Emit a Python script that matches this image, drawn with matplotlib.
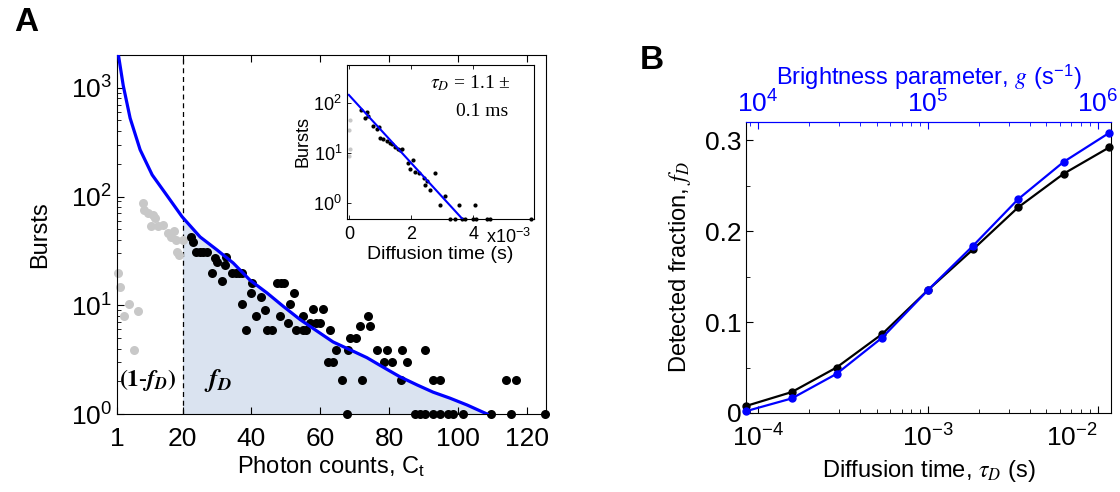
import matplotlib
matplotlib.use('Agg')
import matplotlib.pyplot as plt
import numpy as np
from matplotlib import rcParams
from matplotlib.ticker import FixedLocator, NullFormatter, LogLocator

rcParams['font.family'] = ['Liberation Sans', 'DejaVu Sans']
rcParams['mathtext.fontset'] = 'stix'

# * panel A: burst size histogram
gray_x = [1.4, 1.9, 3.1, 4.4, 5.9, 7.1, 8.4, 8.9, 9.9, 10.9, 11.3, 12.0, 12.8,
          14.2, 15.7, 16.7, 17.6, 18.1, 18.5, 19.0, 20.1]
gray_y = [20, 14.8, 7.9, 10.3, 3.9, 8.9, 87, 75, 70, 54, 68, 63, 53,
          55, 46, 42, 48, 40, 31, 29, 40]

black_x = [22.4, 23.0, 24.0, 25.0, 26.0, 27.0, 28.6, 29.3, 30.0, 31.5, 32.2, 32.7,
           34.4, 35.4, 36.3, 37.3, 37.3, 38.3, 39.8, 40.3, 41.4, 42.7, 44.0, 44.5,
           46.0, 47.5, 48.2, 48.5, 49.4, 50.6, 51.3, 52.3, 53.0, 55.0, 55.0, 55.9,
           56.9, 57.9, 58.8, 59.8, 60.8, 62.2, 62.7, 63.6, 64.6, 66.2, 67.6, 68.0,
           68.5, 70.4, 71.4, 72.0, 73.8, 74.3, 76.5, 78.4, 79.3, 80.8, 83.5, 83.7,
           85.1, 87.4, 88.9, 90.3, 90.4, 92.7, 92.8, 94.6, 94.8, 97.0, 98.5, 101.4,
           109.6, 114.0, 115.4, 116.9, 125.2]
black_y = [42, 38, 31, 31, 31, 31, 20, 27, 25, 16.7, 23.5, 27.6,
           20, 20, 20, 20, 10.2, 5.9, 13, 16, 7.9, 12, 9.1, 5.9,
           5.9, 16, 8, 16, 16, 6.9, 10.2, 13, 5.9, 5.9, 8, 5.9,
           6.9, 9.2, 6.9, 6.9, 9.2, 3.0, 5.9, 3.0, 3.9, 2.05, 1, 3.9,
           5.0, 5.0, 6.4, 2.05, 7.9, 6.4, 3.9, 3.0, 3.9, 3.0, 2.05, 3.9,
           3.0, 1, 1, 1, 3.9, 1, 2.05, 1, 2.05, 1, 1, 1,
           1, 2.05, 1, 2.05, 1]

fit_x = [1.4, 2.8, 4.8, 7.7, 11.2, 15.5, 19.9, 25.1, 30.0, 34.7, 39.6, 44.5,
         49.2, 54.1, 59.0, 63.7, 68.6, 73.5, 78.2, 83.1, 88.1, 92.7, 97.6,
         102.6, 108.4]
fit_y = [2000, 1047, 525, 269, 158, 102, 65, 42.5, 32.3, 24.5, 17.0, 13,
         9.8, 7.4, 5.8, 4.6, 3.9, 3.3, 2.7, 2.2, 1.85, 1.59, 1.40,
         1.21, 1.0]

# * inset: diffusion time histogram
ins_gray_x = [0.03e-3, 0.01e-3, 0.03e-3, 0.01e-3]
ins_gray_y = [46, 29, 12, 8.7]
ins_x = [0.38, 0.57, 0.52, 0.62, 0.79, 0.89, 0.98, 1.00, 1.11, 1.22, 1.32, 1.38,
         1.48, 1.59, 1.64, 1.70, 2.07, 1.91, 1.97, 2.13, 2.24, 2.40, 2.50, 2.77,
         2.45, 2.61, 3.10, 2.94, 3.53, 4.06, 3.26, 3.42, 3.63, 3.74, 4.00, 4.10,
         4.44, 4.55, 5.84]
ins_y = [74, 67, 49, 54, 34, 30, 33, 20, 19, 17, 16, 15,
         13, 12, 11.5, 12, 7.2, 6.2, 4.9, 4.2, 3.9, 3.1, 2.7, 3.9,
         2.3, 1.8, 1.4, 0.9, 0.9, 0.9, 0.48, 0.48, 0.48, 0.48, 0.48, 0.48,
         0.48, 0.48, 0.48]
ins_fit_x = [0.0, 3.65e-3]
ins_fit_y = [145, 0.48]

# * panel B: detected fraction vs diffusion time
tau = [8.5e-5, 1.58e-4, 2.9e-4, 5.4e-4, 1.0e-3, 1.85e-3, 3.4e-3, 6.3e-3, 1.17e-2]
frac_black = [0.0077, 0.023, 0.050, 0.087, 0.135, 0.180, 0.226, 0.263, 0.292]
frac_blue = [0.002, 0.016, 0.043, 0.083, 0.135, 0.184, 0.235, 0.276, 0.308]

fig = plt.figure(figsize=(11.2, 4.92), dpi=100)

tick_fs = 19
label_fs = 17

# ! A
ax = fig.add_axes([0.1045, 0.1585, 0.383, 0.7297])
xs = np.array(fit_x)
ys = np.array(fit_y)
mask = xs >= 19.9
ax.fill_between(np.concatenate([[20], xs[mask]]),
                np.concatenate([[np.interp(20, xs, ys)], ys[mask]]),
                1, color='#dae3f0', lw=0, zorder=0)
ax.axvline(20, color='black', ls=(0, (4, 3)), lw=0.9, zorder=1)
ax.plot(gray_x, gray_y, 'o', color='#c8c8c8', ms=6.5, mec='none', zorder=2, clip_on=False)
ax.plot(black_x, black_y, 'o', color='black', ms=6.5, mec='none', zorder=3, clip_on=False)
ax.plot(fit_x, fit_y, color='blue', lw=2.3, zorder=4)
ax.set_yscale('log')
ax.set_xlim(1, 125.5)
ax.set_ylim(1, 2000)
ax.set_xticks([1, 20, 40, 60, 80, 100, 120])
ax.set_xticklabels(['1', '20', '40', '60', '80', '100', '120'])
ax.yaxis.set_major_locator(FixedLocator([1, 10, 100, 1000]))
ax.set_yticklabels([r'$\mathdefault{10^{0}}$', r'$\mathdefault{10^{1}}$',
                    r'$\mathdefault{10^{2}}$', r'$\mathdefault{10^{3}}$'])
ax.yaxis.set_minor_locator(LogLocator(subs=np.arange(2, 10)))
ax.yaxis.set_minor_formatter(NullFormatter())
ax.tick_params(direction='in', labelsize=tick_fs, width=0.8, length=5, top=True)
ax.tick_params(axis='x', pad=9)
ax.tick_params(which='minor', direction='in', length=3, width=0.6)
ax.set_xlabel(r'Photon counts, C$_\mathregular{t}$', fontsize=label_fs, labelpad=3)
ax.set_ylabel('Bursts', fontsize=label_fs, labelpad=14)
ax.text(10.0, 2.05, r'$\mathbf{(1}$-$\mathbfit{f}_{\mathbfit{D}}\mathbf{)}$',
        ha='center', va='center', fontsize=17, family='Liberation Serif')
ax.text(30.3, 2.05, r'$\mathbfit{f}_{\mathbfit{D}}$', ha='center', va='center', fontsize=19)
fig.text(0.023, 0.955, 'A', fontsize=24, fontweight='bold', va='center', ha='center')

# ! inset
ins = fig.add_axes([0.3098, 0.5549, 0.1670, 0.3130])
ins.plot(ins_gray_x, ins_gray_y, 'o', color='#c8c8c8', ms=3, mec='none', clip_on=False)
ins.plot(np.array(ins_x) * 1e-3, ins_y, 'o', color='black', ms=3, mec='none', clip_on=False)
ins.plot(ins_fit_x, ins_fit_y, color='blue', lw=1.5)
ins.set_yscale('log')
ins.set_xlim(-0.06e-3, 5.95e-3)
ins.set_ylim(0.48, 575)
ins.set_xticks([0, 2e-3, 4e-3])
ins.set_xticklabels(['0', '2', '4'])
ins.yaxis.set_major_locator(FixedLocator([1, 10, 100]))
ins.set_yticklabels([r'$\mathdefault{10^{0}}$', r'$\mathdefault{10^{1}}$',
                     r'$\mathdefault{10^{2}}$'])
ins.yaxis.set_minor_formatter(NullFormatter())
ins.tick_params(direction='in', labelsize=13, length=3, width=0.6, top=True)
ins.tick_params(axis='x', pad=5)
ins.tick_params(which='minor', left=False)
ins.set_xlabel('Diffusion time (s)', fontsize=14, labelpad=2)
ins.set_ylabel('Bursts', fontsize=13, labelpad=1)
ins.text(0.745, -0.12, r'x10$^{\mathdefault{-3}}$', transform=ins.transAxes,
         fontsize=13, ha='left', va='center')
ins.text(0.875, 0.88, r'$\tau_D$ = 1.1 ±', transform=ins.transAxes, fontsize=14,
         ha='right', va='center', family='Liberation Serif')
ins.text(0.86, 0.70, '0.1 ms', transform=ins.transAxes, fontsize=14,
         ha='right', va='center', family='Liberation Serif')

# ! B
bx = fig.add_axes([0.6661, 0.1606, 0.3259, 0.5915])
bx.plot(tau, frac_black, '-o', color='black', lw=1.6, ms=5, zorder=3, clip_on=False)
bx.plot(tau, frac_blue, '-o', color='blue', lw=1.6, ms=5, zorder=4, clip_on=False)
bx.set_xscale('log')
bx.set_xlim(8.5e-5, 1.2e-2)
bx.set_ylim(0, 0.32)
bx.set_yticks([0, 0.1, 0.2, 0.3])
bx.set_yticklabels(['0', '0.1', '0.2', '0.3'])
bx.set_yticks([0.05, 0.15, 0.25], minor=True)
bx.xaxis.set_major_locator(FixedLocator([1e-4, 1e-3, 1e-2]))
bx.set_xticklabels([r'$\mathdefault{10^{-4}}$', r'$\mathdefault{10^{-3}}$',
                    r'$\mathdefault{10^{-2}}$'])
bx.xaxis.set_minor_locator(LogLocator(subs=np.arange(2, 10)))
bx.xaxis.set_minor_formatter(NullFormatter())
bx.tick_params(direction='in', labelsize=tick_fs, length=5, width=0.8)
bx.tick_params(axis='x', pad=8)
bx.tick_params(which='minor', direction='in', length=3, width=0.6)
bx.xaxis.get_ticklabels()[-1].set_horizontalalignment('right')
bx.spines['top'].set_color('blue')
bx.set_xlabel(r'Diffusion time, $\mathit{\tau_D}$ (s)', fontsize=label_fs, labelpad=5)
bx.set_ylabel(r'Detected fraction, $\mathit{f_D}$', fontsize=label_fs, labelpad=8)

top = bx.secondary_xaxis('top', functions=(lambda t: t * 1e8, lambda g: g / 1e8))
top.set_xscale('log')
top.xaxis.set_major_locator(FixedLocator([1e4, 1e5, 1e6]))
top.set_xticklabels([r'$\mathdefault{10^{4}}$', r'$\mathdefault{10^{5}}$',
                     r'$\mathdefault{10^{6}}$'])
top.xaxis.set_minor_locator(LogLocator(subs=np.arange(2, 10)))
top.xaxis.set_minor_formatter(NullFormatter())
top.tick_params(direction='in', labelsize=tick_fs, length=5, width=0.8,
                colors='blue', pad=3)
top.tick_params(which='minor', direction='in', length=3, width=0.6, colors='blue')
top.spines['top'].set_color('blue')
top.set_xlabel(r'Brightness parameter, $g$ (s$^{\mathdefault{-1}}$)',
               fontsize=label_fs, color='blue', labelpad=4)
fig.text(0.582, 0.878, 'B', fontsize=24, fontweight='bold', va='center', ha='center')

plt.savefig('out.png', dpi=100)
